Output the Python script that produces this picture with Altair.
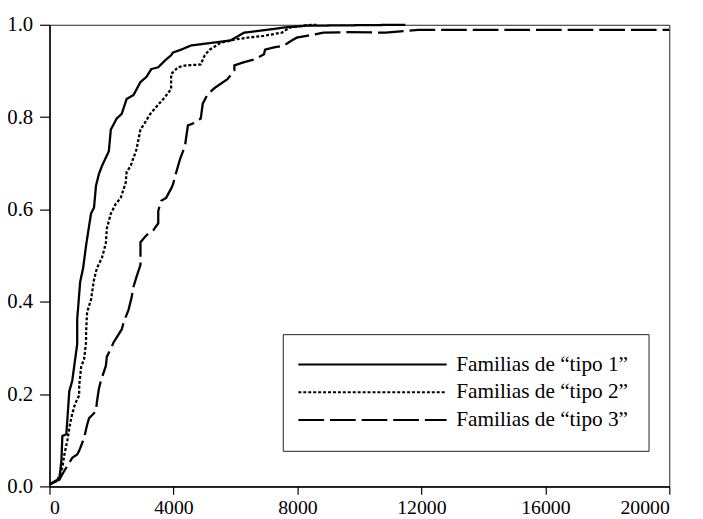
import altair as alt
import pandas as pd

series_names = ['Familias de “tipo 1”', 'Familias de “tipo 2”', 'Familias de “tipo 3”']

tipo1_x = [0, 319, 383, 415, 542, 574, 638, 734, 798, 893, 893, 989, 1085, 1180, 1244, 1340,
           1436, 1499, 1595, 1691, 1914, 1978, 2169, 2329, 2488, 2712, 2935, 3126, 3286, 3509,
           3732, 3924, 3988, 4243, 4562, 5008, 5838, 6284, 7018, 7560, 8294, 11484]
tipo1_y = [0.004, 0.015, 0.056, 0.109, 0.113, 0.143, 0.206, 0.229, 0.261, 0.308, 0.362, 0.443,
           0.473, 0.522, 0.550, 0.591, 0.604, 0.651, 0.677, 0.694, 0.726, 0.773, 0.797, 0.807,
           0.839, 0.848, 0.876, 0.887, 0.904, 0.908, 0.923, 0.934, 0.940, 0.946, 0.955, 0.959,
           0.966, 0.983, 0.989, 0.994, 0.998, 1.0]

tipo2_x = [0, 255, 415, 479, 574, 638, 702, 798, 861, 957, 957, 1021, 1117, 1180, 1180, 1212,
           1340, 1436, 1531, 1691, 1818, 1850, 1978, 2137, 2297, 2456, 2488, 2616, 2807, 2935,
           3062, 3254, 3445, 3732, 3924, 3924, 4147, 4402, 4881, 5008, 5168, 5519, 5965, 6380,
           6922, 7497, 7752, 8294, 8613]
tipo2_y = [0.004, 0.013, 0.041, 0.069, 0.099, 0.126, 0.148, 0.173, 0.184, 0.197, 0.218, 0.259,
           0.276, 0.313, 0.334, 0.377, 0.405, 0.448, 0.473, 0.495, 0.527, 0.559, 0.591, 0.612,
           0.625, 0.657, 0.681, 0.694, 0.730, 0.773, 0.786, 0.807, 0.822, 0.844, 0.861, 0.893,
           0.908, 0.912, 0.914, 0.934, 0.946, 0.961, 0.968, 0.972, 0.976, 0.983, 0.994, 0.999,
           1.0]

tipo3_x = [0, 223, 319, 479, 638, 734, 893, 957, 1117, 1212, 1276, 1372, 1499, 1531, 1595, 1659,
           1818, 1850, 1978, 2074, 2169, 2329, 2393, 2552, 2648, 2712, 2807, 2935, 2935, 3126,
           3350, 3509, 3509, 3605, 3764, 3924, 3988, 4083, 4211, 4370, 4466, 4626, 4881, 4945,
           5104, 5327, 5742, 5965, 5965, 6284, 6603, 6922, 6954, 7241, 7560, 7816, 7975, 8294,
           8837, 9570, 10846, 11899, 20000]
tipo3_y = [0.004, 0.013, 0.015, 0.034, 0.051, 0.062, 0.069, 0.077, 0.105, 0.133, 0.148, 0.154,
           0.163, 0.184, 0.212, 0.229, 0.261, 0.281, 0.298, 0.313, 0.323, 0.340, 0.355, 0.383,
           0.409, 0.433, 0.454, 0.480, 0.529, 0.544, 0.555, 0.570, 0.597, 0.619, 0.625, 0.645,
           0.655, 0.679, 0.709, 0.737, 0.782, 0.786, 0.797, 0.829, 0.850, 0.863, 0.882, 0.901,
           0.912, 0.919, 0.925, 0.936, 0.946, 0.951, 0.955, 0.966, 0.972, 0.976, 0.983, 0.984,
           0.983, 0.989, 0.989]

x_ticks = [0, 4000, 8000, 12000, 16000, 20000]
y_ticks = [0.0, 0.2, 0.4, 0.6, 0.8, 1.0]

rows = []
for name, xs, ys in zip(series_names, [tipo1_x, tipo2_x, tipo3_x], [tipo1_y, tipo2_y, tipo3_y]):
    for i, (xv, yv) in enumerate(zip(xs, ys)):
        rows.append({"serie": name, "x": xv, "y": yv, "orden": i})
df = pd.DataFrame(rows)

FONT = "Liberation Serif"

chart = alt.Chart(df).mark_line(color="black", strokeWidth=2.3).encode(
    x=alt.X("x:Q", scale=alt.Scale(domain=[0, 20000], nice=False),
            axis=alt.Axis(values=x_ticks, format="d", title=None, grid=False,
                          tickSize=8, labelPadding=3, labelFontSize=20)),
    y=alt.Y("y:Q", scale=alt.Scale(domain=[0, 1], nice=False),
            axis=alt.Axis(values=y_ticks, format=".1f", title=None, grid=False,
                          tickSize=10, labelPadding=7)),
    strokeDash=alt.StrokeDash(
        "serie:N",
        scale=alt.Scale(domain=series_names, range=[[1, 0], [3, 2], [26, 6]]),
        legend=alt.Legend(
            title=None, orient="none", legendX=236, legendY=313,
            strokeColor="#222", fillColor="white", padding=20,
            symbolType="M-3,0H27", symbolSize=100, symbolStrokeWidth=2,
            symbolStrokeColor="black", symbolOffset=0,
            labelFont=FONT, labelFontSize=21.5, labelColor="black", labelLimit=400,
            labelOffset=134, rowPadding=5,
        ),
    ),
    order="orden:Q",
).properties(
    width=627, height=467,
    autosize=alt.AutoSizeParams(type="none"),
    padding={"left": 42, "top": 14, "right": 26, "bottom": 30},
).configure_view(
    stroke="#222", strokeWidth=1
).configure_axis(
    labelFont=FONT, labelFontSize=21, labelColor="black",
    domainColor="black", domainWidth=1.5, tickColor="black", tickWidth=1.2,
)

chart.save("out.html", embed_options={"renderer": "svg", "actions": False})
